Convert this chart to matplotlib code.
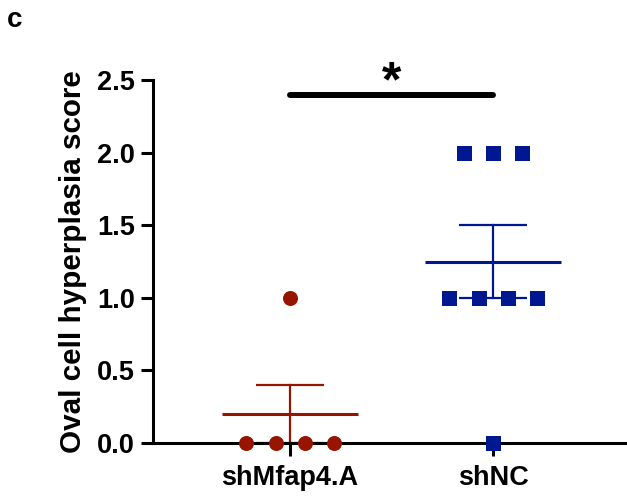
import matplotlib
matplotlib.use("Agg")
import matplotlib.pyplot as plt
import numpy as np

plt.rcParams['font.family'] = ['Liberation Sans', 'DejaVu Sans']
plt.rcParams['font.weight'] = 'bold'

groups = ["shMfap4.A", "shNC"]
values_mfap4 = [0, 0, 0, 0, 1]
values_shnc = [2, 2, 2, 1, 1, 1, 1, 0]
colors = ["#961400", "#00188F"]
markers = ["o", "s"]
yticks = [0.0, 0.5, 1.0, 1.5, 2.0, 2.5]
ylabel = "Oval cell hyperplasia score"
sig_text = "*"
panel = "c"

fig = plt.figure(figsize=(6.27, 4.97), dpi=100)
ax = fig.add_axes([153/627, 1-443/497, 1-153/627, (443-80)/497])

spacing = 0.143
for i, (vals, col, mk) in enumerate(zip([values_mfap4, values_shnc], colors, markers)):
    vals = np.array(vals, dtype=float)
    mean = vals.mean()
    sem = vals.std(ddof=1) / np.sqrt(len(vals))
    ax.plot([i - 0.335, i + 0.335], [mean, mean], color=col, lw=2.2, zorder=2, solid_capstyle='butt')
    ax.plot([i, i], [mean - sem, mean + sem], color=col, lw=1.6, zorder=2)
    for yy in (mean - sem, mean + sem):
        ax.plot([i - 0.167, i + 0.167], [yy, yy], color=col, lw=1.6, zorder=2, solid_capstyle='butt')
    xs = []
    ys = []
    for v in np.unique(vals):
        n = int((vals == v).sum())
        offs = (np.arange(n) - (n - 1) / 2) * spacing
        xs.extend(i + offs)
        ys.extend([v] * n)
    ax.plot(xs, ys, linestyle='none', marker=mk, markersize=10.8, color=col,
            markeredgewidth=0, zorder=3, clip_on=False)

# significance bar
ax.plot([0, 1], [2.397, 2.397], color='black', lw=4.3, solid_capstyle='round', clip_on=False, zorder=4)
ax.text(0.5, 2.48, sig_text, ha='center', va='center', fontsize=36, fontweight='bold', clip_on=False)

ax.set_xlim(-0.675, 1.66)
ax.set_ylim(0, 2.5)
ax.set_yticks(yticks)
ax.set_yticklabels([f"{t:.1f}" for t in yticks])
ax.set_xticks([0, 1])
ax.set_xticklabels(groups)
ax.set_ylabel(ylabel, fontsize=21.3, fontweight='bold', labelpad=7)

for s in ['top', 'right']:
    ax.spines[s].set_visible(False)
for s in ['left', 'bottom']:
    ax.spines[s].set_linewidth(2.2)
ax.tick_params(axis='both', width=2.2, length=9, labelsize=19.5, direction='out')
ax.tick_params(axis='y', pad=4)
ax.tick_params(axis='x', pad=7)
for lbl in ax.get_xticklabels() + ax.get_yticklabels():
    lbl.set_fontweight('bold')

fig.text(15/627, 1-20/497, panel, fontsize=20, fontweight='bold', ha='center', va='center')

fig.savefig("out.png", dpi=100)
